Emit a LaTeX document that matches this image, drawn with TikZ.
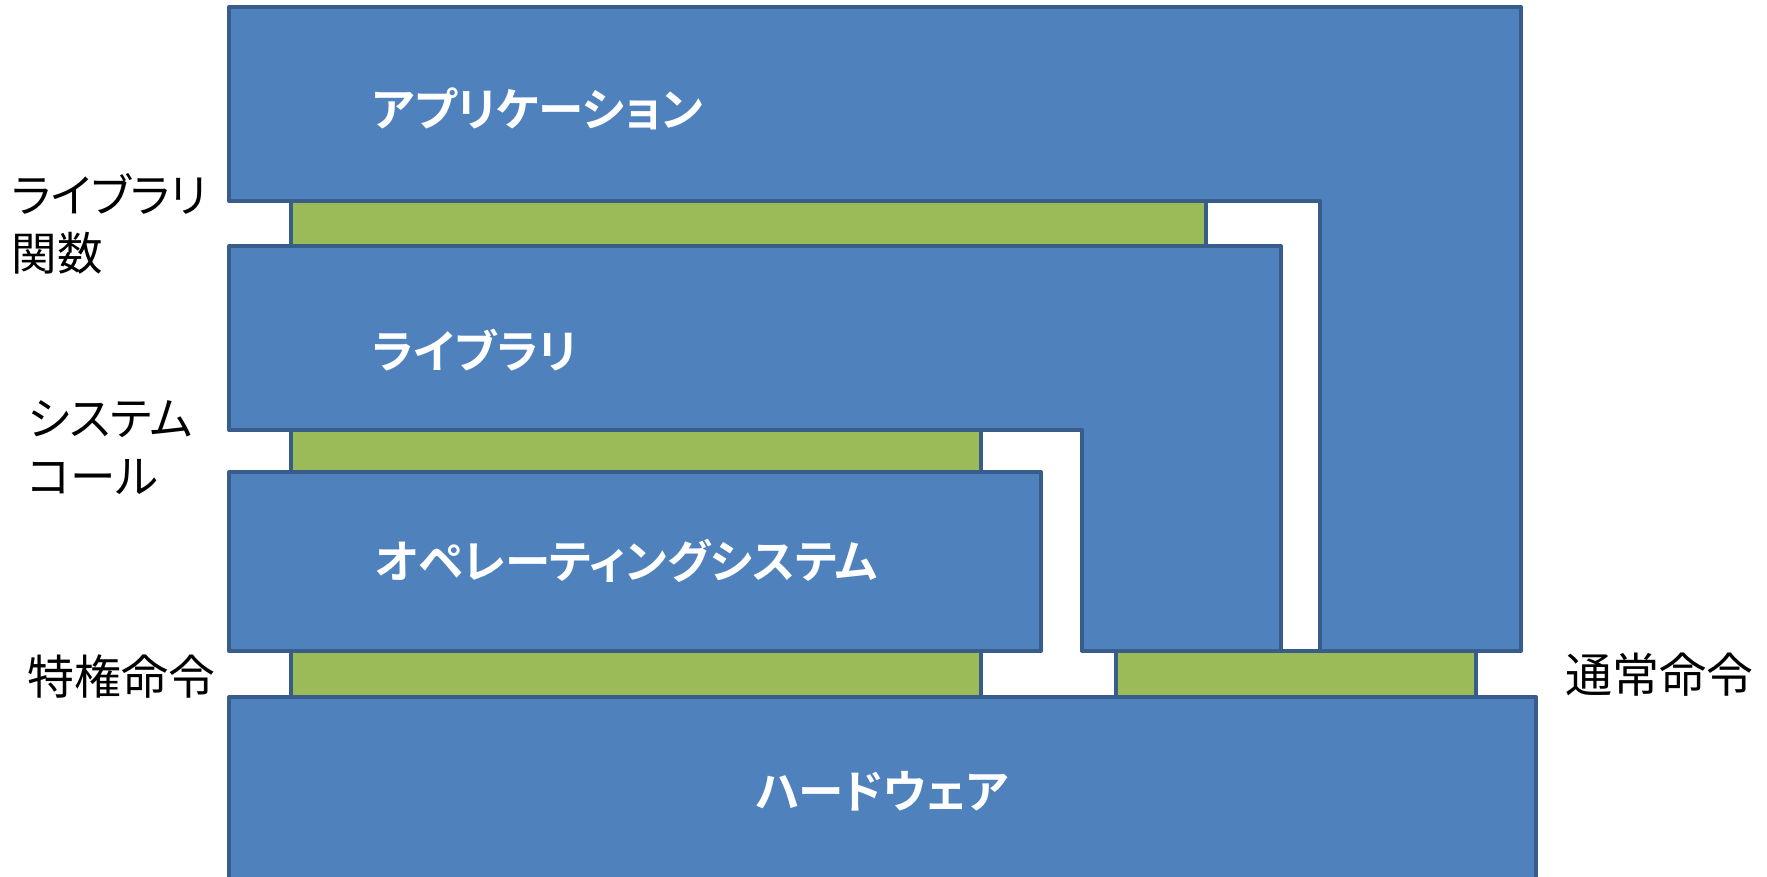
\documentclass[tikz,border=0pt]{standalone}
\usepackage{fontspec}
\newfontfamily\jpfont[RawFeature=+palt]{Noto Sans CJK JP}
\newfontfamily\jpbold[RawFeature=+palt]{Noto Sans CJK JP Bold}
\definecolor{boxblue}{HTML}{4F81BD}
\definecolor{boxedge}{HTML}{385D8A}
\definecolor{ifgreen}{HTML}{9BBB59}
\tikzset{
  layer/.style={fill=boxblue, draw=boxedge, line width=1.6pt, line join=round},
  iface/.style={fill=ifgreen, draw=boxedge, line width=1.6pt, line join=round},
  intext/.style={text=white, inner sep=0pt, font=\jpbold\fontsize{18.2}{22}\selectfont},
  sidetext/.style={text=black, inner sep=0pt, align=left, font=\jpfont\fontsize{18.2}{23.2}\selectfont},
  kanjitext/.style={text=black, inner sep=0pt, font=\jpfont\fontsize{18.8}{23.2}\selectfont}
}
\begin{document}
\begin{tikzpicture}[x=0.4pt, y=-0.4pt]
\useasboundingbox (0,0) rectangle (1767,876);
\clip (0,0) rectangle (1767,876);
% interface strips
\draw[iface] (291,201) rectangle (1206,246);
\draw[iface] (291,428) rectangle (981,472);
\draw[iface] (291,651) rectangle (981,697);
\draw[iface] (1116,651) rectangle (1476,697);
% layers
\draw[layer] (229,7) -- (1521,7) -- (1521,651) -- (1320,651) -- (1320,201) -- (229,201) -- cycle;
\draw[layer] (229,246) -- (1281,246) -- (1281,651) -- (1082,651) -- (1082,430) -- (229,430) -- cycle;
\draw[layer] (229,472) rectangle (1041,651);
\draw[layer] (229,697) rectangle (1536,900);
% texts in layers
\node[intext, anchor=west] (app) at (372,109) {アプリケーション};
\node[intext, anchor=west] (lib) at (372,350) {ライブラリ};
\node[intext, anchor=west] (os) at (375,561) {オペレーティングシステム};
\node[intext] (hw) at (882,791) {ハードウェア};
% side labels
\node[sidetext, anchor=west] (libfunc) at (11,224) {ライブラリ\\関数};
\node[sidetext, anchor=west] (syscall) at (27,448) {システム\\コール};
\node[kanjitext, anchor=west] (priv) at (27,677) {特権命令};
\node[kanjitext, anchor=west] (normal) at (1565,675) {通常命令};
\end{tikzpicture}
\end{document}
